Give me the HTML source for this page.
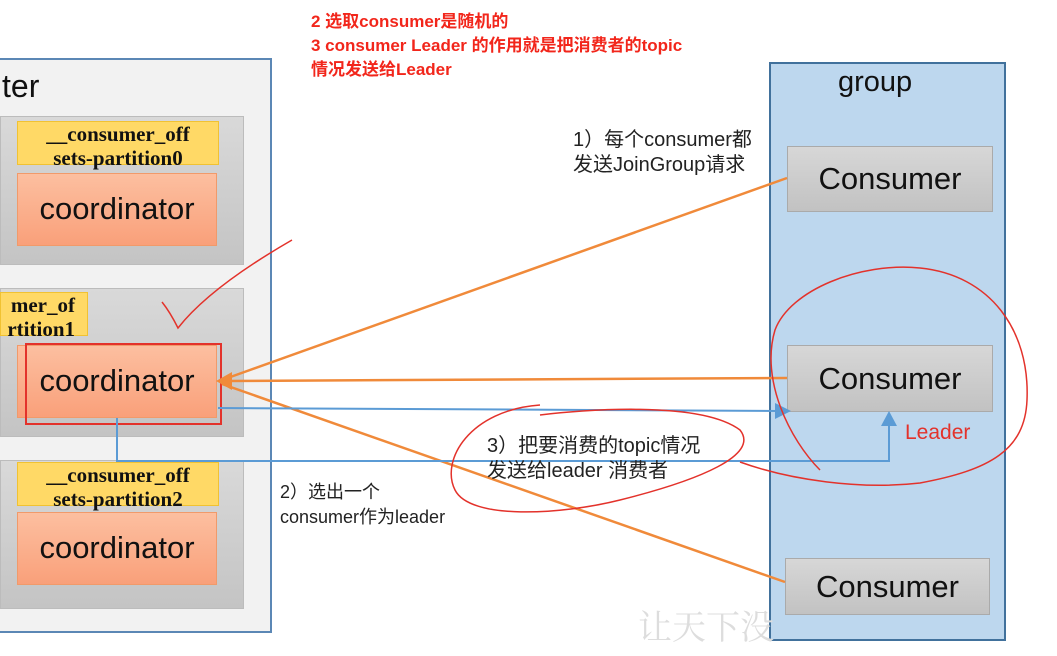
<!DOCTYPE html>
<html><head><meta charset="utf-8"><style>
body{margin:0;width:1057px;height:656px;background:#fff;position:relative;overflow:hidden;font-family:"Liberation Sans","Noto Sans CJK SC",sans-serif}
.a{position:absolute;box-sizing:border-box}
.g{background:linear-gradient(#d9d9d9,#c4c4c4);border:1px solid #bcbcbc}
.y{background:#ffd966;border:1px solid #f1c232;font-family:"Liberation Serif",serif;font-weight:bold;font-size:21px;line-height:24px;text-align:center;color:#111}
.o{background:linear-gradient(#fcbfa0,#f9a07a);border:1px solid #f19a6a;font-size:31px;text-align:center;line-height:70px;color:#111}
.c{background:linear-gradient(#d7d7d7,#c2c2c2);border:1px solid #aaa;font-size:31px;text-align:center;color:#111}
.t{font-size:20px;line-height:25px;color:#222;white-space:nowrap}
</style></head><body>
<div class="a" style="left:-4px;top:58px;width:276px;height:575px;background:#f2f2f2;border:2px solid #5b87b5"></div>
<div class="a" style="left:2px;top:68px;font-size:32px;color:#111">ter</div>
<div class="a g" style="left:0;top:116px;width:244px;height:149px"></div>
<div class="a g" style="left:0;top:288px;width:244px;height:149px"></div>
<div class="a g" style="left:0;top:460px;width:244px;height:149px"></div>
<div class="a y" style="left:17px;top:121px;width:202px;height:44px;padding-top:0">__consumer_off<br>sets-partition0</div>
<div class="a y" style="left:0;top:292px;width:88px;height:44px;text-align:right;padding-right:12px">mer_of<br>rtition1</div>
<div class="a y" style="left:17px;top:462px;width:202px;height:44px">__consumer_off<br>sets-partition2</div>
<div class="a o" style="left:17px;top:173px;width:200px;height:73px">coordinator</div>
<div class="a o" style="left:17px;top:345px;width:200px;height:73px">coordinator</div>
<div class="a" style="left:25px;top:343px;width:197px;height:82px;border:2px solid #e3322b"></div>
<div class="a o" style="left:17px;top:512px;width:200px;height:73px">coordinator</div>
<div class="a" style="left:769px;top:62px;width:237px;height:579px;background:#bdd7ee;border:2px solid #41719c"></div>
<div class="a" style="left:838px;top:66px;font-size:29px;color:#111">group</div>
<div class="a c" style="left:787px;top:146px;width:206px;height:66px;line-height:64px">Consumer</div>
<div class="a c" style="left:787px;top:345px;width:206px;height:67px;line-height:65px">Consumer</div>
<div class="a c" style="left:785px;top:558px;width:205px;height:57px;line-height:55px">Consumer</div>
<svg class="a" style="left:0;top:0" width="1057" height="656">
<g stroke="#f08a3a" stroke-width="2.5" fill="none">
<line x1="787" y1="178" x2="222" y2="380"/>
<line x1="787" y1="378" x2="222" y2="381"/>
<line x1="785" y1="582" x2="222" y2="384"/>
</g>
<path d="M232,372L216,381L232,390z" fill="#f08a3a"/>
<g stroke="#5b9bd5" stroke-width="2" fill="none">
<polyline points="218,408 778,411"/>
<polyline points="117,418 117,461 889,461 889,424"/>
</g>
<path d="M775,403L791,411L775,419z" fill="#5b9bd5"/>
<path d="M881,426L889,411L897,426z" fill="#5b9bd5"/>
<g stroke="#e3322b" stroke-width="1.5" fill="none">
<path d="M162,302 C170,312 175,322 178,328 C200,300 240,270 292,240"/>
<path d="M540,415 C580,410 700,400 740,430 C760,455 700,480 620,500 C560,515 470,520 455,490 C440,460 470,410 540,405"/>
<path d="M820,470 C790,440 760,380 775,330 C790,290 860,262 920,268 C990,275 1030,330 1027,400 C1025,450 990,470 920,483 C860,490 790,480 740,462"/>
</g>
</svg>
<div class="a" style="left:311px;top:10px;color:#f2261b;font-weight:bold;font-size:17px;line-height:24px;white-space:nowrap">2 选取consumer是随机的<br>3 consumer Leader 的作用就是把消费者的topic<br>情况发送给Leader</div>
<div class="a t" style="left:573px;top:128px">1）每个consumer都<br>发送JoinGroup请求</div>
<div class="a t" style="left:487px;top:434px">3）把要消费的topic情况<br>发送给leader 消费者</div>
<div class="a t" style="left:280px;top:480px;font-size:18px">2）选出一个<br>consumer作为leader</div>
<div class="a" style="left:905px;top:421px;color:#e3322b;font-size:21px">Leader</div>
<div class="a" style="left:638px;top:600px;color:#ddd;font-size:34px;font-family:'Noto Serif CJK SC',serif">让天下没</div>
</body></html>
